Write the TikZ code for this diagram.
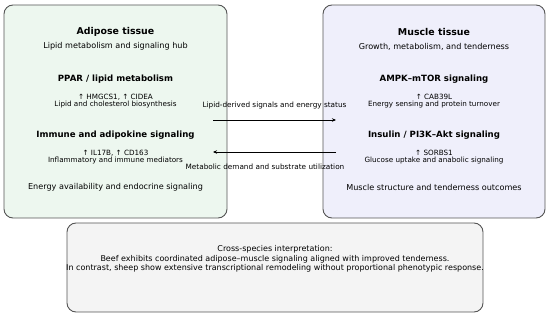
\documentclass[tikz,border=0pt]{standalone}
\usepackage{fontspec}
\setmainfont{DejaVu Sans}
\usetikzlibrary{arrows.meta}
\definecolor{adiposefill}{HTML}{EDF7EF}
\definecolor{musclefill}{HTML}{EFEFFB}
\definecolor{notefill}{HTML}{F4F4F4}
\definecolor{boxline}{HTML}{555555}
\tikzset{
  panel/.style={draw=boxline,line width=0.9pt,rounded corners=9pt},
  ttl/.style={font=\fontsize{9.4}{11}\selectfont\bfseries},
  sub/.style={font=\fontsize{8.1}{9.5}\selectfont},
  hdr/.style={font=\fontsize{8.6}{10}\selectfont\bfseries},
  gene/.style={font=\fontsize{7.2}{7.6}\selectfont,align=center},
  lbl/.style={font=\fontsize{7.3}{8.5}\selectfont},
  flow/.style={line width=0.9pt,-{Stealth[length=4pt,width=3.5pt]}}
}
\begin{document}
\begin{tikzpicture}[x=1pt,y=-1pt]
\useasboundingbox (0,0) rectangle (550,318);
\draw[panel,fill=adiposefill] (4,5) rectangle (227,218);
\draw[panel,fill=musclefill] (323,5) rectangle (545,218);
\draw[panel,fill=notefill] (67,223) rectangle (483,312);
\node[ttl] (adtitle) at (115.5,31.5) {Adipose tissue};
\node[sub] (adsub) at (115.5,46.5) {Lipid metabolism and signaling hub};
\node[hdr] (ppar) at (115.5,79.5) {PPAR / lipid metabolism};
\node[gene] (pparg) at (115.5,101) {↑ HMGCS1, ↑ CIDEA\\Lipid and cholesterol biosynthesis};
\node[hdr] (immune) at (115.5,135.5) {Immune and adipokine signaling};
\node[gene] (immuneg) at (115.5,157) {↑ IL17B, ↑ CD163\\Inflammatory and immune mediators};
\node[sub] (adout) at (115.5,187.5) {Energy availability and endocrine signaling};
\node[ttl] (mutitle) at (434,31.5) {Muscle tissue};
\node[sub] (musub) at (434,46.5) {Growth, metabolism, and tenderness};
\node[hdr] (ampk) at (434,79.5) {AMPK–mTOR signaling};
\node[gene] (ampkg) at (434,101) {↑ CAB39L\\Energy sensing and protein turnover};
\node[hdr] (insulin) at (434,135.5) {Insulin / PI3K–Akt signaling};
\node[gene] (insuling) at (434,157) {↑ SORBS1\\Glucose uptake and anabolic signaling};
\node[sub] (muout) at (434,187.5) {Muscle structure and tenderness outcomes};
\coordinate (adtop) at (213,120);
\coordinate (mutop) at (336,120);
\coordinate (adbot) at (213,152);
\coordinate (mubot) at (336,152);
\draw[flow] (adtop) -- (mutop);
\draw[flow] (mubot) -- (adbot);
\node[lbl] (fwdlbl) at (274.5,105.5) {Lipid-derived signals and energy status};
\node[lbl] (backlbl) at (265,166.5) {Metabolic demand and substrate utilization};
\node[font=\fontsize{8}{9.6}\selectfont,align=center] (note) at (275,259)
  {Cross-species interpretation:\\Beef exhibits coordinated adipose–muscle signaling aligned with improved tenderness.\\In contrast, sheep show extensive transcriptional remodeling without proportional phenotypic response.};
\end{tikzpicture}
\end{document}
